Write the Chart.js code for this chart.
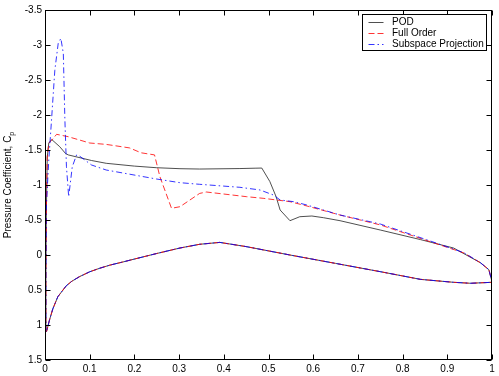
<!DOCTYPE html>
<html>
<head>
<meta charset="utf-8">
<script src="https://cdn.jsdelivr.net/npm/chart.js@4"></script>
<style>
  body { margin: 0; background: #fff; }
  canvas { display: block; }
</style>
</head>
<body>
<canvas id="grafico" width="499" height="376"></canvas>
<script>
// Eixos
var xTickValues = [0, 0.1, 0.2, 0.3, 0.4, 0.5, 0.6, 0.7, 0.8, 0.9, 1];
var xTickLabels = ['0', '0.1', '0.2', '0.3', '0.4', '0.5', '0.6', '0.7', '0.8', '0.9', '1'];
var yTickValues = [-3.5, -3, -2.5, -2, -1.5, -1, -0.5, 0, 0.5, 1, 1.5];
var yTickLabels = ['-3.5', '-3', '-2.5', '-2', '-1.5', '-1', '-0.5', '0', '0.5', '1', '1.5'];

var seriesNames = ['POD', 'Full Order', 'Subspace Projection'];

// Extradorso (bordo de ataque -> bordo de fuga)
var xUpperPOD  = [0.002, 0.002, 0.003, 0.005, 0.0085, 0.015, 0.033, 0.046, 0.052, 0.104, 0.137, 0.2, 0.249, 0.302, 0.346, 0.436, 0.47, 0.485, 0.503, 0.517, 0.526, 0.548, 0.57, 0.597, 0.623, 0.66, 0.75, 0.84, 0.914, 0.974, 0.993, 1.0];
var cpUpperPOD = [1.1, 0.3, -0.6, -1.4, -1.6, -1.65, -1.547, -1.45, -1.43, -1.35, -1.31, -1.27, -1.247, -1.233, -1.228, -1.235, -1.24, -1.242, -1.05, -0.833, -0.643, -0.49, -0.547, -0.557, -0.533, -0.49, -0.357, -0.22, -0.1, 0.11, 0.21, 0.38];

var xUpperFull  = [0.002, 0.002, 0.003, 0.005, 0.0085, 0.015, 0.026, 0.052, 0.1, 0.137, 0.189, 0.215, 0.245, 0.257, 0.283, 0.302, 0.346, 0.361, 0.451, 0.488, 0.518, 0.548, 0.586, 0.66, 0.75, 0.862, 0.937, 0.974, 0.993, 1.0];
var cpUpperFull = [1.1, 0.3, -0.6, -1.4, -1.6, -1.64, -1.724, -1.69, -1.6, -1.58, -1.53, -1.46, -1.43, -1.12, -0.667, -0.69, -0.88, -0.9, -0.833, -0.81, -0.786, -0.762, -0.7, -0.571, -0.43, -0.19, -0.03, 0.11, 0.21, 0.38];

var xUpperSub  = [0.002, 0.002, 0.003, 0.0085, 0.0146, 0.022, 0.0295, 0.0355, 0.041, 0.0445, 0.048, 0.053, 0.061, 0.0706, 0.078, 0.104, 0.137, 0.249, 0.302, 0.346, 0.436, 0.481, 0.511, 0.526, 0.556, 0.586, 0.66, 0.75, 0.862, 0.937, 0.974, 0.993, 1.0];
var cpUpperSub = [1.1, 0.3, -0.7, -1.36, -1.93, -2.64, -3.02, -3.095, -2.88, -1.93, -1.26, -0.833, -1.26, -1.43, -1.41, -1.286, -1.214, -1.086, -1.033, -1.01, -0.967, -0.929, -0.857, -0.786, -0.762, -0.714, -0.571, -0.443, -0.2, -0.033, 0.11, 0.21, 0.38];

// Intradorso (bordo de fuga -> bordo de ataque), igual nas tres curvas
var xLower  = [1.0, 0.952, 0.914, 0.84, 0.75, 0.65, 0.548, 0.45, 0.391, 0.346, 0.302, 0.249, 0.2, 0.174, 0.145, 0.122, 0.1, 0.077, 0.06, 0.0475, 0.0287, 0.0175, 0.01, 0.0034];
var cpLower = [0.39, 0.404, 0.39, 0.348, 0.238, 0.12, 0.0, -0.12, -0.18, -0.153, -0.1, -0.02, 0.058, 0.1, 0.145, 0.19, 0.24, 0.31, 0.375, 0.44, 0.596, 0.77, 0.93, 1.095];

function montaCurva(xs, ys) {
    var pts = [];
    xs.forEach(function (x, i) { pts.push({ x: x, y: ys[i] }); });
    xLower.forEach(function (x, i) { pts.push({ x: x, y: cpLower[i] }); });
    return pts;
}

var fonte = '"Liberation Sans", Arial, Helvetica, sans-serif';
Chart.defaults.font.family = fonte;
Chart.defaults.font.size = 10;
Chart.defaults.color = '#000';

// Moldura, marcas internas, legenda e titulo do eixo y
var moldura = {
    id: 'moldura',
    afterDraw: function (chart) {
        var ctx = chart.ctx, a = chart.chartArea;
        var sx = chart.scales.x, sy = chart.scales.y;
        var L = Math.round(a.left) + 0.5, R = Math.round(a.right) - 0.5;
        var T = Math.round(a.top) + 0.5, B = Math.round(a.bottom) - 0.5;
        ctx.save();
        ctx.strokeStyle = '#000';
        ctx.lineWidth = 1;
        ctx.setLineDash([]);
        ctx.strokeRect(L, T, R - L, B - T);
        ctx.beginPath();
        xTickValues.forEach(function (v) {
            var px = Math.round(sx.getPixelForValue(v)) + 0.5;
            ctx.moveTo(px, B); ctx.lineTo(px, B - 5);
            ctx.moveTo(px, T); ctx.lineTo(px, T + 5);
        });
        yTickValues.forEach(function (v) {
            var py = Math.round(sy.getPixelForValue(v)) + 0.5;
            ctx.moveTo(L, py); ctx.lineTo(L + 5, py);
            ctx.moveTo(R, py); ctx.lineTo(R - 5, py);
        });
        ctx.stroke();

        // legenda
        var bw = 124, bh = 36;
        var bx = Math.round(a.right) - 5.5 - bw, by = Math.round(a.top) + 4.5;
        ctx.fillStyle = '#fff';
        ctx.fillRect(bx, by, bw, bh);
        ctx.strokeRect(bx, by, bw, bh);
        ctx.font = '10px ' + fonte;
        ctx.textAlign = 'left';
        ctx.textBaseline = 'middle';
        chart.data.datasets.forEach(function (ds, i) {
            var ry = Math.round(by + 7.5 + i * 11.2) + 0.5;
            ctx.strokeStyle = ds.borderColor;
            ctx.lineWidth = ds.borderWidth;
            ctx.setLineDash(ds.borderDash || []);
            ctx.beginPath();
            ctx.moveTo(bx + 6, ry);
            ctx.lineTo(bx + 21, ry);
            ctx.stroke();
            ctx.fillStyle = '#000';
            ctx.fillText(ds.label, bx + 29.5, ry);
        });
        ctx.setLineDash([]);

        // titulo do eixo y com subscrito
        var principal = 'Pressure Coefficient, C', sub = 'p';
        ctx.translate(11, (a.top + a.bottom) / 2);
        ctx.rotate(-Math.PI / 2);
        ctx.font = '10px ' + fonte;
        var w1 = ctx.measureText(principal).width;
        ctx.font = '7px ' + fonte;
        var w2 = ctx.measureText(sub).width;
        var x0 = -(w1 + w2) / 2;
        ctx.textBaseline = 'alphabetic';
        ctx.fillStyle = '#000';
        ctx.font = '10px ' + fonte;
        ctx.fillText(principal, x0, 0);
        ctx.font = '7px ' + fonte;
        ctx.fillText(sub, x0 + w1, 3);
        ctx.restore();
    }
};

var ctx = document.getElementById('grafico');

var myChart = new Chart(ctx, {
    type: 'scatter',
    data: {
        datasets: [
            {
                label: seriesNames[0],
                data: montaCurva(xUpperPOD, cpUpperPOD),
                showLine: true,
                borderColor: '#222',
                borderWidth: 0.8,
                pointRadius: 0,
                order: 3
            },
            {
                label: seriesNames[1],
                data: montaCurva(xUpperFull, cpUpperFull),
                showLine: true,
                borderColor: 'rgb(255, 0, 0)',
                borderWidth: 0.8,
                borderDash: [6, 3],
                pointRadius: 0,
                order: 2
            },
            {
                label: seriesNames[2],
                data: montaCurva(xUpperSub, cpUpperSub),
                showLine: true,
                borderColor: 'rgb(0, 0, 255)',
                borderWidth: 0.8,
                borderDash: [6, 3, 1.5, 3],
                pointRadius: 0,
                order: 1
            }
        ]
    },
    options: {
        responsive: false,
        animation: false,
        layout: { padding: { top: 10, right: 7, left: 0, bottom: 0 } },
        scales: {
            x: {
                type: 'linear',
                min: 0,
                max: 1,
                afterBuildTicks: function (s) { s.ticks = xTickValues.map(function (v) { return { value: v }; }); },
                afterFit: function (s) { s.height = 16; },
                grid: { display: false, drawTicks: false },
                border: { display: false },
                ticks: {
                    padding: 3,
                    maxRotation: 0,
                    autoSkip: false,
                    callback: function (v, i) { return xTickLabels[i]; }
                }
            },
            y: {
                type: 'linear',
                min: -3.5,
                max: 1.5,
                reverse: true,
                afterBuildTicks: function (s) { s.ticks = yTickValues.map(function (v) { return { value: v }; }); },
                afterFit: function (s) { s.width = 45; },
                grid: { display: false, drawTicks: false },
                border: { display: false },
                ticks: {
                    padding: 3,
                    autoSkip: false,
                    callback: function (v, i) { return yTickLabels[i]; }
                }
            }
        },
        plugins: {
            legend: { display: false },
            tooltip: { enabled: false }
        }
    },
    plugins: [moldura]
});
</script>
</body>
</html>
